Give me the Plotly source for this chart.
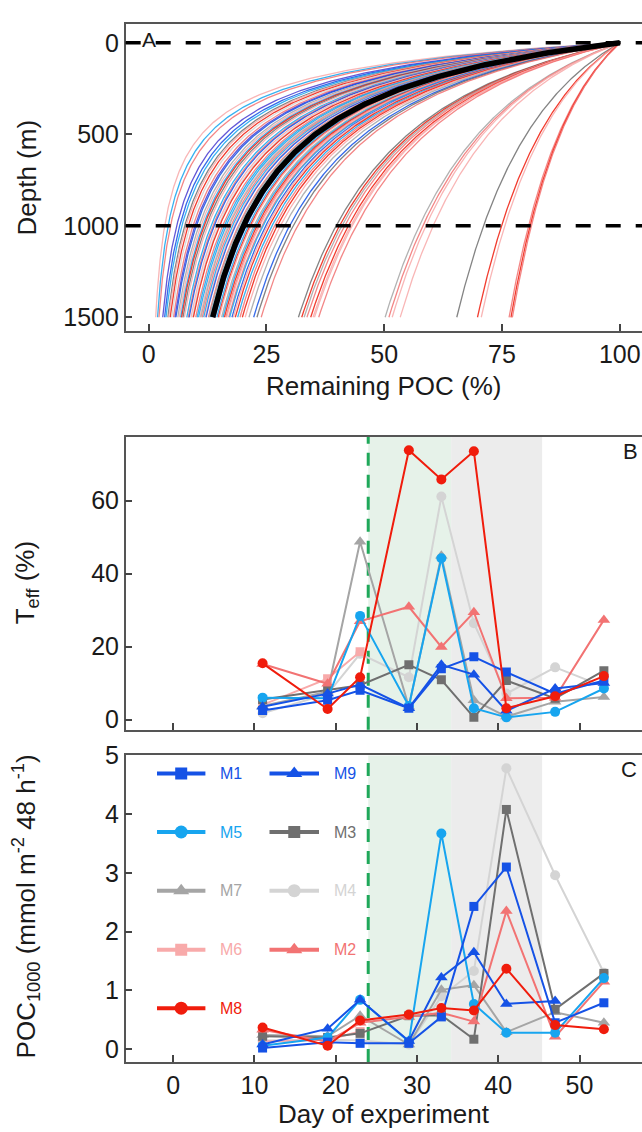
import numpy as np
import plotly.graph_objects as go

W, H = 642, 1132
FONT = "Liberation Sans, Arial, Helvetica, sans-serif"

# ---------------- colours ----------------
C_BLUE = "#1552e6"
C_LBLUE = "#17a5ef"
C_DGRAY = "#6f6f6f"
C_GRAY = "#a5a5a5"
C_LGRAY = "#d4d4d4"
C_PINK = "#f8aaaa"
C_SALMON = "#f27373"
C_RED = "#f01c0c"
C_PURPLE = "#4a3cd0"

# ---------------- Panel A: remaining POC at 1500 m (%) of each attenuation curve ----------------
remaining_1500 = [1.5, 1.9, 2.2, 3.0, 3.4, 3.7, 4.1, 4.3, 4.6, 4.9, 5.3, 5.6, 5.8, 6.2, 6.5, 6.8,
                  7.0, 7.3, 7.6, 8.1, 8.4, 8.6, 9.0, 9.3, 9.5, 10.0, 10.3, 10.6, 10.9, 11.1, 11.4,
                  11.7, 12.0, 12.2, 12.7, 12.9, 13.2, 13.8, 14.1, 14.5, 14.8, 15.0, 15.5, 15.8,
                  16.1, 16.4, 16.6, 17.0, 17.2, 17.7, 18.0, 18.4, 18.9, 19.4, 19.9, 20.5, 21.3,
                  22.3, 23.0, 23.9, 31.8, 32.5, 33.0, 33.6, 34.4, 34.9, 35.2, 36.1, 50.2, 51.0,
                  51.7, 53.4, 65.4, 69.8, 70.6, 76.5, 76.9, 77.2]
curve_colors = [C_PINK, C_LBLUE, C_SALMON, C_PURPLE, C_BLUE, C_LBLUE, C_DGRAY, C_PINK, C_RED,
                C_LGRAY, C_SALMON, C_PURPLE, C_BLUE, C_GRAY, C_PINK, C_LBLUE, C_RED, C_DGRAY,
                C_PINK, C_LBLUE, C_SALMON, C_BLUE, C_PINK, C_LGRAY, C_RED, C_SALMON, C_LBLUE,
                C_LBLUE, C_PINK, C_GRAY, C_SALMON, C_LBLUE, C_PINK, C_BLUE, C_SALMON, C_GRAY,
                C_LBLUE, C_PINK, C_BLUE, C_LBLUE, C_RED, C_PINK, C_GRAY, C_LBLUE, C_RED,
                C_SALMON, C_PINK, C_SALMON, C_LBLUE, C_BLUE, C_PINK, C_RED, C_LBLUE, C_SALMON,
                C_RED, C_PINK, C_GRAY, C_BLUE, C_DGRAY, C_SALMON, C_DGRAY, C_RED, C_GRAY,
                C_SALMON, C_RED, C_PINK, C_PINK, C_SALMON, C_GRAY, C_SALMON, C_PINK, C_PINK,
                C_DGRAY, C_RED, C_PINK, C_SALMON, C_RED, C_SALMON]
mean_remaining_1500 = 13.6
scale_depth = 400.0          # m, depth scale of the attenuation function
depth_bottom = 1500.0
ref_depths = [0, 1000]       # dashed reference depths

# ---------------- Panels B and C ----------------
days = [11, 19, 23, 29, 33, 37, 41, 47, 53]
series_names = ["M1", "M9", "M5", "M3", "M7", "M4", "M6", "M2", "M8"]

teff_M1 = [2.5, 5.3, 8.0, 3.1, 13.9, 17.2, 13.0, 7.1, 10.7]
teff_M9 = [3.5, 7.1, 9.6, 3.1, 15.0, 12.3, 2.4, 8.5, 10.0]
teff_M5 = [6.0, 5.8, 28.4, 3.7, 44.2, 3.1, 0.6, 2.1, 8.5]
teff_M3 = [5.5, 8.0, 9.4, 15.0, 10.9, 0.6, 10.7, 5.8, 13.4]
teff_M7 = [3.7, 7.6, 48.7, 3.5, 44.9, 5.3, 0.8, 4.9, 6.2]
teff_M4 = [1.7, 7.0, 18.0, 11.6, 61.1, 26.4, 7.1, 14.3, 9.0]
teff_M6 = [4.0, 11.2, 18.6, None, None, None, None, None, None]
teff_M2 = [15.2, 9.8, 26.9, 30.9, 19.9, 29.4, 5.8, 6.0, 27.3]
teff_M8 = [15.4, 2.9, 11.6, 73.8, 65.8, 73.5, 3.1, 6.4, 11.9]

poc_M1 = [0.02, 0.12, 0.10, 0.10, 0.55, 2.43, 3.10, 0.45, 0.79]
poc_M9 = [0.08, 0.35, 0.84, 0.14, 1.22, 1.65, 0.77, 0.82, None]
poc_M5 = [0.06, 0.20, 0.84, 0.13, 3.67, 0.77, 0.28, 0.28, 1.21]
poc_M3 = [0.22, 0.20, 0.27, 0.57, 0.58, 0.17, 4.08, 0.68, 1.29]
poc_M7 = [0.24, 0.22, 0.57, 0.08, 1.01, 1.09, 0.29, 0.63, 0.45]
poc_M4 = [0.15, 0.16, 0.15, 0.08, 0.90, 1.33, 4.78, 2.96, 1.30]
poc_M6 = [0.13, 0.16, 0.30, None, None, None, None, None, None]
poc_M2 = [0.33, 0.13, 0.45, 0.55, 0.62, 0.47, 2.35, 0.21, 1.15]
poc_M8 = [0.37, 0.06, 0.49, 0.59, 0.70, 0.66, 1.37, 0.41, 0.34]

addition_day = 24
green_phase = [24, 34.2]
gray_phase = [34.2, 45.4]

teff = {"M1": teff_M1, "M9": teff_M9, "M5": teff_M5, "M3": teff_M3, "M7": teff_M7,
        "M4": teff_M4, "M6": teff_M6, "M2": teff_M2, "M8": teff_M8}
poc = {"M1": poc_M1, "M9": poc_M9, "M5": poc_M5, "M3": poc_M3, "M7": poc_M7,
       "M4": poc_M4, "M6": poc_M6, "M2": poc_M2, "M8": poc_M8}
style = {
    "M1": (C_BLUE, "square", 9), "M9": (C_BLUE, "triangle-up", 11),
    "M5": (C_LBLUE, "circle", 10), "M3": (C_DGRAY, "square", 9),
    "M7": (C_GRAY, "triangle-up", 11), "M4": (C_LGRAY, "circle", 10),
    "M6": (C_PINK, "square", 9), "M2": (C_SALMON, "triangle-up", 11),
    "M8": (C_RED, "circle", 10),
}
draw_order = ["M4", "M6", "M7", "M3", "M2", "M5", "M9", "M1", "M8"]

# ---------------- geometry (pixels) ----------------
def px_x(x):
    return x / W

def px_y(y):
    return 1 - y / H

XL = 125.7
dom_x = [px_x(XL), 1.0]
dom_A = [px_y(322), px_y(10)]
dom_B = [px_y(726.7), px_y(429.3)]
dom_C = [px_y(1064), px_y(752.7)]

fig = go.Figure()

# ---- Panel A curves ----
z = np.linspace(0, depth_bottom, 301)
def curve(rem):
    b = -np.log(rem / 100.0) / np.log(1 + depth_bottom / scale_depth)
    return 100.0 * (1 + z / scale_depth) ** (-b)

for rem, col in zip(remaining_1500, curve_colors):
    fig.add_trace(go.Scatter(x=curve(rem), y=z, mode="lines", xaxis="x", yaxis="y",
                             line=dict(color=col, width=1.3), opacity=0.85,
                             hoverinfo="skip", showlegend=False))
fig.add_trace(go.Scatter(x=curve(mean_remaining_1500), y=z, mode="lines", xaxis="x", yaxis="y",
                         line=dict(color="black", width=5.5), hoverinfo="skip", showlegend=False))

# ---- Panels B & C ----
for name in draw_order:
    col, sym, sz = style[name]
    fig.add_trace(go.Scatter(x=days, y=teff[name], mode="lines+markers", xaxis="x2", yaxis="y2",
                             line=dict(color=col, width=2), connectgaps=False,
                             marker=dict(symbol=sym, size=sz, color=col),
                             showlegend=False, name=name))
    fig.add_trace(go.Scatter(x=days, y=poc[name], mode="lines+markers", xaxis="x3", yaxis="y3",
                             line=dict(color=col, width=2), connectgaps=False,
                             marker=dict(symbol=sym, size=sz, color=col),
                             showlegend=False, name=name))

# ---- manual legend in panel C (overlay axes in pixel units) ----
legend_grid = [["M1", "M9"], ["M5", "M3"], ["M7", "M4"], ["M6", "M2"], ["M8", None]]
row_y = [771, 830.5, 890, 950, 1009.3]
col_line = [(157, 205.4), (269.5, 319)]
col_text = [217.5, 331.5]
annotations = []
for r, row in enumerate(legend_grid):
    for c, name in enumerate(row):
        if name is None:
            continue
        col, sym, sz = style[name]
        x0, x1 = col_line[c]
        fig.add_trace(go.Scatter(x=[x0, x1], y=[row_y[r], row_y[r]], mode="lines",
                                 xaxis="x4", yaxis="y4", line=dict(color=col, width=4),
                                 hoverinfo="skip", showlegend=False))
        fig.add_trace(go.Scatter(x=[(x0 + x1) / 2], y=[row_y[r]], mode="markers",
                                 xaxis="x4", yaxis="y4",
                                 marker=dict(symbol=sym, size=sz + 3, color=col),
                                 hoverinfo="skip", showlegend=False))
        annotations.append(dict(text=name, x=px_x(col_text[c]), y=px_y(row_y[r]), xref="paper",
                                yref="paper", xanchor="left", yanchor="middle", showarrow=False,
                                font=dict(family=FONT, size=16, color=col)))

# ---- shapes ----
shapes = []
for yref in ["y2", "y3"]:
    xref = "x2" if yref == "y2" else "x3"
    shapes.append(dict(type="rect", xref=xref, yref=yref + " domain", x0=green_phase[0],
                       x1=green_phase[1], y0=0, y1=1, fillcolor="#e6f2e9", line=dict(width=0),
                       layer="below"))
    shapes.append(dict(type="rect", xref=xref, yref=yref + " domain", x0=gray_phase[0],
                       x1=gray_phase[1], y0=0, y1=1, fillcolor="#ececec", line=dict(width=0),
                       layer="below"))
    shapes.append(dict(type="line", xref=xref, yref=yref + " domain", x0=addition_day,
                       x1=addition_day, y0=0, y1=1,
                       line=dict(color="#1fa85a", width=3, dash="13px,9px"), layer="below"))
for d in ref_depths:
    shapes.append(dict(type="line", xref="x domain", yref="y", x0=0, x1=1, y0=d, y1=d,
                       line=dict(color="black", width=3.5, dash="15px,15px"), layer="above"))

# ---- text annotations ----
def title(text, x, y, angle=None, size=26):
    a = dict(text=text, x=px_x(x), y=px_y(y), xref="paper", yref="paper",
             xanchor="center", yanchor="middle", showarrow=False,
             font=dict(family=FONT, size=size, color="#1a1a1a"))
    if angle is not None:
        a["textangle"] = angle
    annotations.append(a)

title("Remaining POC (%)", 384, 378)
title("Day of experiment", 384, 1117)
title("Depth (m)", 27, 166, -90)
title("T<sub>eff</sub> (%)", 26, 578, -90)
title("POC<sub>1000</sub> (mmol m<sup>-2</sup> 48 h<sup>-1</sup>)", 26, 906, -90)
title("A", 148.5, 26, size=21)
title("B", 630, 444, size=22)
title("C", 629, 767, size=22)

def axis_style(mirror):
    return dict(showline=True, linecolor="#555555", linewidth=1.5, mirror=mirror,
                ticks="inside", ticklen=7, tickwidth=1.5, tickcolor="#444444",
                showgrid=False, zeroline=False,
                tickfont=dict(family=FONT, size=25, color="#1a1a1a"))

fig.update_layout(
    width=W, height=H, margin=dict(l=0, r=0, t=0, b=0),
    paper_bgcolor="white", plot_bgcolor="white", showlegend=False,
    xaxis=dict(domain=dom_x, anchor="y", range=[-4.86, 104.71], tickvals=[0, 25, 50, 75, 100],
               **axis_style(True)),
    yaxis=dict(domain=dom_A, anchor="x", range=[1576, -103.4], tickvals=[0, 500, 1000, 1500],
               **axis_style(False)),
    xaxis2=dict(domain=dom_x, anchor="y2", range=[-5.845, 57.69], tickvals=[0, 10, 20, 30, 40, 50],
                showticklabels=False, **axis_style(True)),
    yaxis2=dict(domain=dom_B, anchor="x2", range=[-2.81, 77.46], tickvals=[0, 20, 40, 60],
                **axis_style(False)),
    xaxis3=dict(domain=dom_x, anchor="y3", range=[-5.845, 57.69], tickvals=[0, 10, 20, 30, 40, 50],
                **axis_style(True)),
    yaxis3=dict(domain=dom_C, anchor="x3", range=[-0.218, 5.0], tickvals=[0, 1, 2, 3, 4, 5],
                **axis_style(False)),
    xaxis4=dict(overlaying="x3", anchor="y4", range=[XL, W], visible=False, fixedrange=True),
    yaxis4=dict(overlaying="y3", anchor="x4", range=[1064, 752.7], visible=False, fixedrange=True),
    shapes=shapes, annotations=annotations,
)

fig.write_html("out.html", post_script="document.body.style.margin='0px';")
